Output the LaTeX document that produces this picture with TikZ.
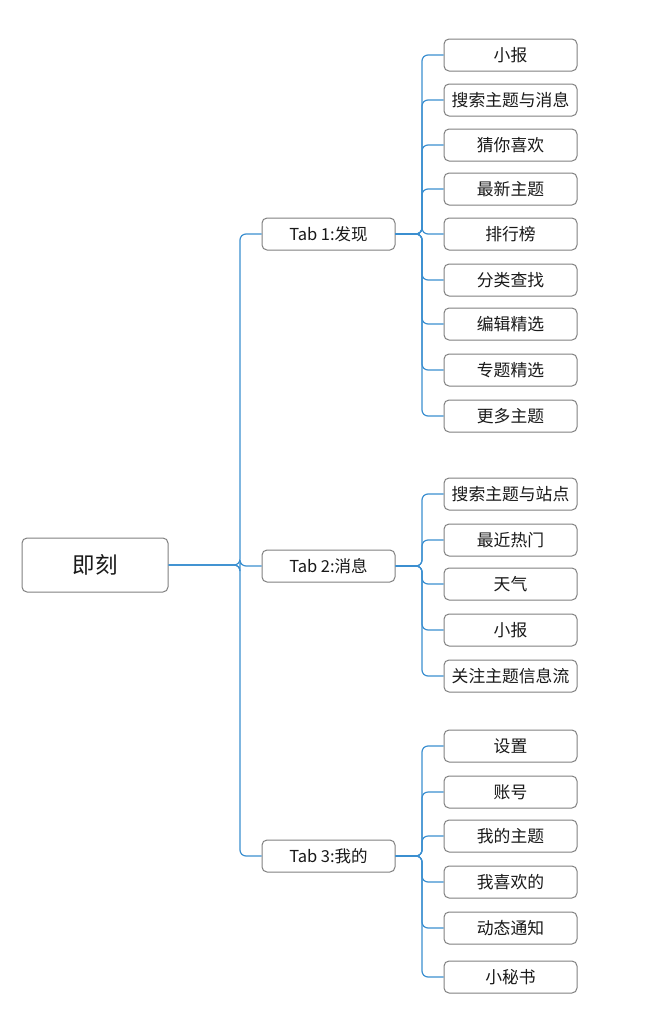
\documentclass[tikz,border=0pt]{standalone}
\usepackage{fontspec}
\setmainfont{Noto Sans CJK SC}
\begin{document}
\begin{tikzpicture}[x=1pt,y=-1pt,
  box/.style={draw=black!50, line width=1pt, rounded corners=5pt, fill=white, inner sep=0pt, text=black!90},
  rootbox/.style={box, minimum width=146pt, minimum height=54pt, font=\fontsize{22.5}{24}\selectfont},
  tabbox/.style={box, minimum width=133pt, minimum height=32pt, font=\fontsize{16.5}{18}\selectfont},
  leafbox/.style={box, minimum width=133pt, minimum height=32pt, font=\fontsize{16.8}{18}\selectfont},
  link/.style={draw={rgb,255:red,59;green,143;blue,208}, line width=1.2pt, rounded corners=6pt}]
\useasboundingbox (0,0) rectangle (658,1018);
\node[rootbox] (root) at (95,565) {即刻};
\node[tabbox] (t1) at (328.5,234) {Tab 1:发现};
\node[tabbox] (t2) at (328.5,566) {Tab 2:消息};
\node[tabbox] (t3) at (328.5,856) {Tab 3:我的};
\foreach \n/\y/\t in {a1/55/小报, a2/100/搜索主题与消息, a3/145/猜你喜欢, a4/189/最新主题, a5/234/排行榜, a6/280/分类查找, a7/324/编辑精选, a8/370/专题精选, a9/416/更多主题,
  b1/494/搜索主题与站点, b2/540/最近热门, b3/584/天气, b4/630/小报, b5/676/关注主题信息流,
  c1/746/设置, c2/792/账号, c3/836/我的主题, c4/882/我喜欢的, c5/928/动态通知, c6/977/小秘书}
  {\node[leafbox] (\n) at (510.5,\y) {\t};}
\foreach \t in {t1,t2,t3}
  \draw[link] (root.east) -- (240,565) |- (\t.west);
\foreach \l in {a1,a2,a3,a4,a5,a6,a7,a8,a9}
  \draw[link] (t1.east) -- (422,234) |- (\l.west);
\foreach \l in {b1,b2,b3,b4,b5}
  \draw[link] (t2.east) -- (422,566) |- (\l.west);
\foreach \l in {c1,c2,c3,c4,c5,c6}
  \draw[link] (t3.east) -- (422,856) |- (\l.west);
\end{tikzpicture}
\end{document}
